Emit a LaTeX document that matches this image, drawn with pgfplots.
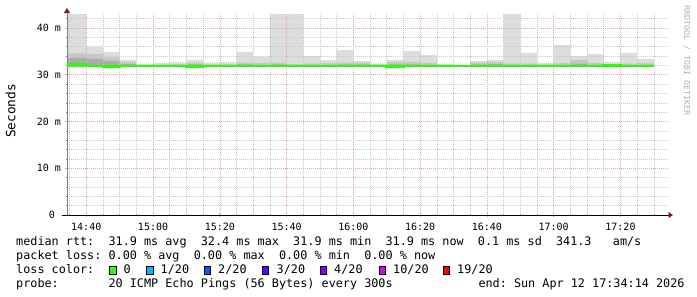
\documentclass[border=0pt]{standalone}
\usepackage{fontspec}
\setmainfont{DejaVu Sans Mono}
\usepackage{pgfplots}
\usepackage{pgfplotstable}
\pgfplotsset{compat=1.18}
\usetikzlibrary{arrows.meta}
\definecolor{smokeA}{HTML}{DDDDDD}
\definecolor{smokeB}{HTML}{C6C6C6}
\definecolor{smokeC}{HTML}{ABABAB}
\definecolor{lossgreen}{HTML}{26FF00}
\definecolor{gridgrey}{HTML}{C8C8C8}
\definecolor{gridred}{HTML}{E8A8A8}
\definecolor{arrowred}{HTML}{8B1A1A}
\definecolor{c1}{HTML}{00B8FF}
\definecolor{c2}{HTML}{0059FF}
\definecolor{c3}{HTML}{5E00FF}
\definecolor{c4}{HTML}{7E00FF}
\definecolor{c10}{HTML}{DD00FF}
\definecolor{c19}{HTML}{FF0000}

% x = minutes after 14:00, values in ms
\pgfplotstableread{
x       lo    dk     md    mx    med
34.233  31.6  33.6   34.6  44    32.2
40      31.7  33.4   34.4  35.9  31.9
45      31.6  32.9   33.7  34.9  31.8
50      31.7  32.3   32.7  33.2  31.9
55      31.7  32.0   32.1  32.3  31.9
60      31.7  32.0   32.2  32.5  31.9
65      31.7  32.0   32.3  32.7  31.9
70      31.6  32.2   32.6  33.2  31.8
75      31.7  32.0   32.2  32.6  31.9
80      31.7  32.0   32.3  32.7  31.9
85      31.7  32.2   32.6  34.9  31.9
90      31.7  32.1   32.5  33.9  31.9
95      31.7  32.2   32.6  44    31.9
100     31.7  32.0   32.3  44    31.9
105     31.7  32.1   32.4  34.0  31.9
110     31.7  32.1   32.5  33.2  31.9
115     31.7  32.2   32.6  35.3  31.9
120     31.7  32.2   32.6  32.9  31.9
125     31.7  32.0   32.2  32.4  31.9
130     31.6  32.2   32.7  33.2  31.8
135     31.7  32.2   32.7  35.1  31.9
140     31.7  32.1   32.5  34.2  31.9
145     31.7  32.0   32.1  32.3  31.9
150     31.7  31.95  32.0  32.05 31.9
155     31.7  32.2   32.6  32.9  31.9
160     31.7  32.3   32.7  33.2  31.9
165     31.7  32.1   32.4  44    31.9
170     31.7  32.1   32.4  34.7  31.9
175     31.7  32.0   32.2  32.5  31.9
180     31.7  32.1   32.5  36.4  31.9
185     31.7  32.4   33.2  34.0  31.9
190     31.7  32.1   32.5  34.4  31.9
195     31.8  32.0   32.3  32.7  32.0
200     31.7  32.1   32.4  34.7  31.9
205     31.7  32.1   32.5  33.4  31.9
210     31.7  32.1   32.5  33.4  31.9
}\smoke

\begin{document}
\frenchspacing
\begin{tikzpicture}
\begin{axis}[
  at={(67bp,-215bp)}, anchor=south west,
  scale only axis, width=601bp, height=201bp,
  xmin=34.233, xmax=214.233, ymin=0, ymax=43,
  set layers, axis on top,
  axis x line=bottom, axis y line=left,
  x axis line style={black, line width=0.9bp, shorten <=-5bp, shorten >=-5bp,
     -{Triangle[length=4.5bp,width=6bp,color=arrowred]}},
  y axis line style={gray, line width=0.9bp, shorten >=-6bp,
     -{Triangle[length=5bp,width=6bp,color=arrowred]}},
  xtick={40,60,...,200},
  xticklabels={14:40,15:00,15:20,15:40,16:00,16:20,16:40,17:00,17:20},
  minor xtick={35,45,50,55,65,70,75,85,90,95,105,110,115,125,130,135,145,150,155,165,170,175,185,190,195,205,210},
  ytick={0,10,20,30,40},
  yticklabels={0~~,10~m,20~m,30~m,40~m},
  minor ytick={2,4,6,8,12,14,16,18,22,24,26,28,32,34,36,38,42},
  grid=both,
  major grid style={line width=0.6bp, dash pattern=on 1bp off 1bp, color=gridred},
  minor grid style={line width=0.6bp, dash pattern=on 1bp off 1bp, color=gridgrey},
  tick align=center, major tick length=4bp, minor tick length=2bp,
  every major tick/.append style={color=gridred, line width=0.8bp},
  every minor tick/.append style={color=gray, line width=0.6bp},
  ticklabel style={font=\fontsize{10bp}{12bp}\selectfont},
  xticklabel style={yshift=-3bp},
  yticklabel style={anchor=east, xshift=-0.5bp},
  /pgf/number format/assume math mode=true,
]
\addplot[const plot, fill=smokeA, draw=none] table[x=x,y=mx]{\smoke} \closedcycle;
\addplot[const plot, fill=smokeB, draw=none] table[x=x,y=md]{\smoke} \closedcycle;
\addplot[const plot, fill=smokeC, draw=none] table[x=x,y=dk]{\smoke} \closedcycle;
\addplot[const plot, fill=white, draw=none] table[x=x,y=lo]{\smoke} \closedcycle;
\addplot[const plot, draw=lossgreen, line width=2.6bp, on layer=axis foreground] table[x=x,y=med]{\smoke};
\end{axis}

\node[rotate=90, font=\fontsize{12.8bp}{14bp}\selectfont] at (10.5bp,-111bp) {Seconds};
\node[rotate=-90, anchor=base west, inner sep=0pt, text=gray!60, font=\fontsize{8.3bp}{9bp}\selectfont] at (684bp,-5bp) {RRDTOOL~/~TOBI~OETIKER};

\begin{scope}[every node/.style={anchor=base west, inner sep=0pt, font=\fontsize{11.8bp}{14bp}\selectfont}]
\node at (16bp,-245bp) {median~rtt:~~31.9~ms~avg~~32.4~ms~max~~31.9~ms~min~~31.9~ms~now~~0.1~ms~sd~~341.3~~~am/s};
\node at (16bp,-259bp) {packet~loss:~0.00~\%~avg~~0.00~\%~max~~0.00~\%~min~~0.00~\%~now};
\node at (16bp,-273bp) {loss~color:};
\node at (123.5bp,-273bp) {0};
\node at (160.5bp,-273bp) {1/20};
\node at (218bp,-273bp) {2/20};
\node at (276.5bp,-273bp) {3/20};
\node at (334bp,-273bp) {4/20};
\node at (393bp,-273bp) {10/20};
\node at (457bp,-273bp) {19/20};
\node at (16bp,-287bp) {probe:~~~~~~~20~ICMP~Echo~Pings~(56~Bytes)~every~300s};
\node at (478.3bp,-287bp) {end:~Sun~Apr~12~17:34:14~2026};
\end{scope}
\begin{scope}[line width=1bp]
\filldraw[fill=lossgreen] (109.5bp,-266bp) rectangle (116bp,-274bp);
\filldraw[fill=c1] (146.5bp,-266bp) rectangle (153bp,-274bp);
\filldraw[fill=c2] (204bp,-266bp) rectangle (210.5bp,-274bp);
\filldraw[fill=c3] (262bp,-266bp) rectangle (268.5bp,-274bp);
\filldraw[fill=c4] (320bp,-266bp) rectangle (326.5bp,-274bp);
\filldraw[fill=c10] (379bp,-266bp) rectangle (385.5bp,-274bp);
\filldraw[fill=c19] (443bp,-266bp) rectangle (449.5bp,-274bp);
\end{scope}
\pgfresetboundingbox
\path[use as bounding box] (0,0) rectangle (697bp,-297bp);
\end{tikzpicture}
\end{document}
